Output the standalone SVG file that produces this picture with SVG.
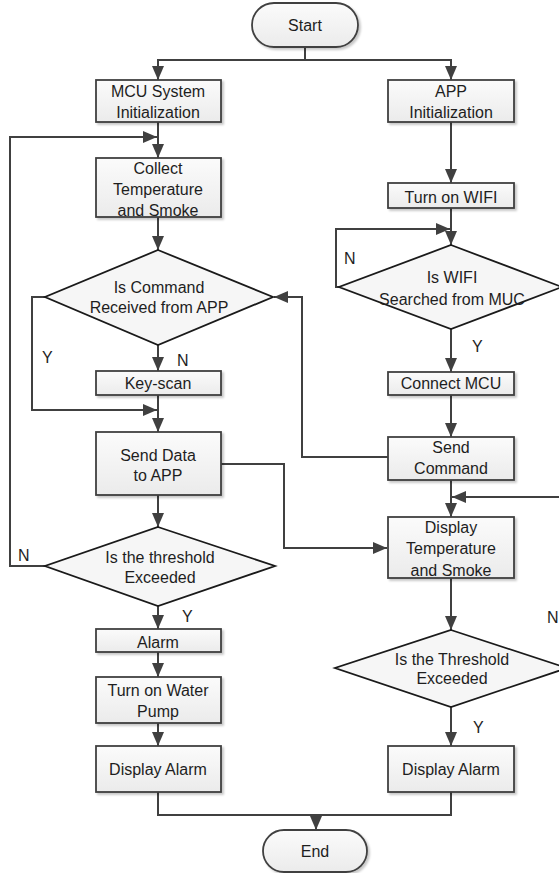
<svg xmlns="http://www.w3.org/2000/svg" width="559" height="873" viewBox="0 0 559 873">
<defs>
<linearGradient id="g" x1="0" y1="0" x2="0" y2="1"><stop offset="0" stop-color="#fbfbfb"/><stop offset="1" stop-color="#ebebeb"/></linearGradient>
<filter id="sh" x="-10%" y="-10%" width="130%" height="140%"><feDropShadow dx="2" dy="2" stdDeviation="1" flood-color="#000" flood-opacity="0.22"/></filter>
<marker id="ar" viewBox="0 0 14 12" refX="14" refY="6" markerWidth="14" markerHeight="12" markerUnits="userSpaceOnUse" orient="auto"><path d="M0,0 L14,6 L0,12 Z" fill="#404040"/></marker>
</defs>
<style>
.b{fill:url(#g);stroke:#404040;stroke-width:1.8;filter:url(#sh)}
.d{fill:#f6f6f6;stroke:#1a1a1a;stroke-width:1.8}
.t{font-family:"Liberation Sans",Arial,sans-serif;font-size:16px;fill:#1e1e1e;text-anchor:middle;dominant-baseline:central}
.l{font-family:"Liberation Sans",Arial,sans-serif;font-size:16px;fill:#1e1e1e;dominant-baseline:central}
.c{fill:none;stroke:#404040;stroke-width:2}
</style>
<g id="connectors">
<path class="c" d="M305,47 V60 H158 V80" marker-end="url(#ar)"/>
<path class="c" d="M305,60 H451 V80" marker-end="url(#ar)"/>
<path class="c" d="M158,122 V158" marker-end="url(#ar)"/>
<path class="c" d="M45,566 H10 V137 H157" marker-end="url(#ar)"/>
<path class="c" d="M158,217 V250" marker-end="url(#ar)"/>
<path class="c" d="M158,345 V371" marker-end="url(#ar)"/>
<path class="c" d="M45,297 H32 V410 H157" marker-end="url(#ar)"/>
<path class="c" d="M158,395 V432" marker-end="url(#ar)"/>
<path class="c" d="M158,495 V527" marker-end="url(#ar)"/>
<path class="c" d="M158,606 V629" marker-end="url(#ar)"/>
<path class="c" d="M158,652 V677" marker-end="url(#ar)"/>
<path class="c" d="M158,723 V746" marker-end="url(#ar)"/>
<path class="c" d="M221,464 H284 V548 H387" marker-end="url(#ar)"/>
<path class="c" d="M451,122 V183" marker-end="url(#ar)"/>
<path class="c" d="M451,208 V245" marker-end="url(#ar)"/>
<path class="c" d="M339,287 H336 V229 H450" marker-end="url(#ar)"/>
<path class="c" d="M451,329 V372" marker-end="url(#ar)"/>
<path class="c" d="M451,395 V437" marker-end="url(#ar)"/>
<path class="c" d="M388,457 H302 V297 H274" marker-end="url(#ar)"/>
<path class="c" d="M451,480 V517" marker-end="url(#ar)"/>
<path class="c" d="M567,668 H575 V497 H452" marker-end="url(#ar)"/>
<path class="c" d="M451,578 V630" marker-end="url(#ar)"/>
<path class="c" d="M451,707 V746" marker-end="url(#ar)"/>
<path class="c" d="M158,792 V815 H451 V792"/>
<path class="c" d="M316,815 V830" marker-end="url(#ar)"/>
</g>
<g id="start"><rect class="b" x="252" y="3" width="106" height="44" rx="22"/><text class="t" x="305" y="25">Start</text></g>
<g id="mcu-init"><rect class="b" x="96" y="80" width="125" height="42"/><text class="t" x="158" y="91">MCU System</text><text class="t" x="158" y="112">Initialization</text></g>
<g id="app-init"><rect class="b" x="388" y="80" width="126" height="42"/><text class="t" x="451" y="91">APP</text><text class="t" x="451" y="112">Initialization</text></g>
<g id="collect"><rect class="b" x="96" y="158" width="125" height="59"/><text class="t" x="158" y="168">Collect</text><text class="t" x="158" y="189">Temperature</text><text class="t" x="158" y="210">and Smoke</text></g>
<g id="wifi-on"><rect class="b" x="388" y="183" width="126" height="25"/><text class="t" x="451" y="197">Turn on WIFI</text></g>
<g id="cmd-received"><polygon class="d" points="158,250 273,297 158,345 45,297"/><text class="t" x="159" y="287">Is Command</text><text class="t" x="159" y="307">Received from APP</text></g>
<g id="wifi-search"><polygon class="d" points="451,245 562,287 451,329 339,287"/><text class="t" x="452" y="277">Is WIFI</text><text class="t" x="452" y="299">Searched from MUC</text></g>
<g id="keyscan"><rect class="b" x="96" y="371" width="125" height="24"/><text class="t" x="158" y="383">Key-scan</text></g>
<g id="connect-mcu"><rect class="b" x="388" y="372" width="126" height="23"/><text class="t" x="451" y="383">Connect MCU</text></g>
<g id="send-data"><rect class="b" x="96" y="432" width="125" height="63"/><text class="t" x="158" y="455">Send Data</text><text class="t" x="158" y="475">to APP</text></g>
<g id="send-cmd"><rect class="b" x="388" y="437" width="126" height="43"/><text class="t" x="451" y="447">Send</text><text class="t" x="451" y="468">Command</text></g>
<g id="display-temp"><rect class="b" x="388" y="517" width="126" height="61"/><text class="t" x="451" y="527">Display</text><text class="t" x="451" y="548">Temperature</text><text class="t" x="451" y="570">and Smoke</text></g>
<g id="threshold-left"><polygon class="d" points="158,527 275,566 158,606 45,566"/><text class="t" x="160" y="557">Is the threshold</text><text class="t" x="160" y="577">Exceeded</text></g>
<g id="threshold-right"><polygon class="d" points="451,630 567,668 451,707 335,668"/><text class="t" x="452" y="659">Is the Threshold</text><text class="t" x="452" y="678">Exceeded</text></g>
<g id="alarm"><rect class="b" x="96" y="629" width="125" height="23"/><text class="t" x="158" y="642">Alarm</text></g>
<g id="pump"><rect class="b" x="96" y="677" width="125" height="46"/><text class="t" x="158" y="690">Turn on Water</text><text class="t" x="158" y="711">Pump</text></g>
<g id="display-alarm-left"><rect class="b" x="96" y="746" width="125" height="46"/><text class="t" x="158" y="769">Display Alarm</text></g>
<g id="display-alarm-right"><rect class="b" x="388" y="746" width="126" height="46"/><text class="t" x="451" y="769">Display Alarm</text></g>
<g id="end"><rect class="b" x="263" y="830" width="104" height="42" rx="21"/><text class="t" x="315" y="851">End</text></g>
<g id="labels">
<text class="l" x="42" y="357">Y</text>
<text class="l" x="177" y="360">N</text>
<text class="l" x="344" y="258">N</text>
<text class="l" x="472" y="346">Y</text>
<text class="l" x="18" y="555">N</text>
<text class="l" x="182" y="616">Y</text>
<text class="l" x="547" y="617">N</text>
<text class="l" x="473" y="727">Y</text>
</g>
</svg>
